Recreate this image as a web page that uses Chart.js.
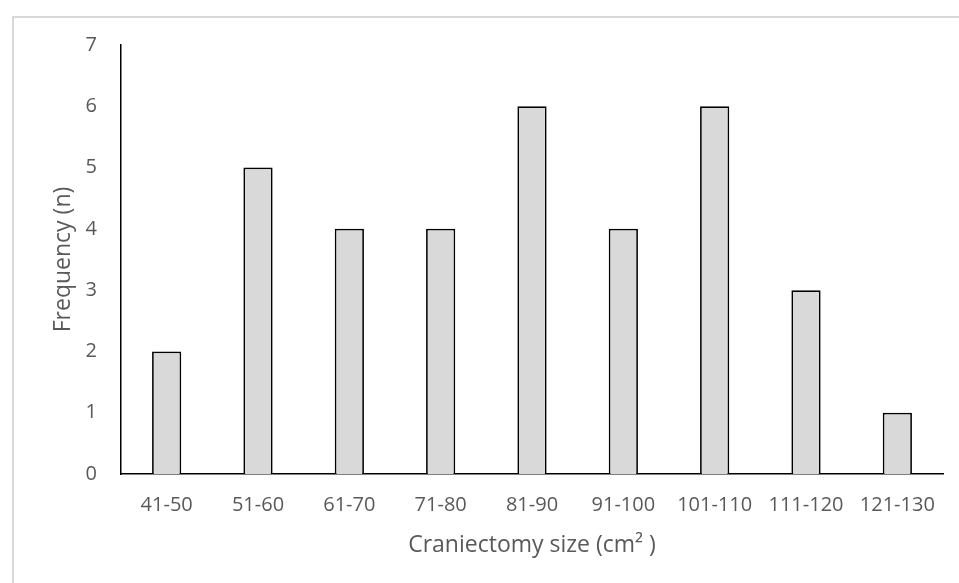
<!DOCTYPE html>
<html>
<head>
<meta charset="utf-8">
<script src="https://cdn.jsdelivr.net/npm/chart.js@4"></script>
<style>
  html, body { margin: 0; padding: 0; overflow: hidden; background: #fff; }
  #frame { position: absolute; left: 12px; top: 16px; width: 2000px; height: 2000px; border: 2px solid #d9d9d9; }
  #wrap { position: absolute; left: 0; top: 0; width: 959px; height: 583px; }
</style>
</head>
<body>
<div id="frame"></div>
<div id="wrap"><canvas id="barChart" width="959" height="583"></canvas></div>
<script>
// craniectomy size bins and how many patients fell in each
const sizeBins = ['41-50','51-60','61-70','71-80','81-90','91-100','101-110','111-120','121-130']
const frequency = [2,5,4,4,6,4,6,3,1]
const yMax = 7

const grey = '#595959'
const tickFont = {family: "'Open Sans', sans-serif", size: 20}
const titleFont = {family: "'Open Sans', sans-serif", size: 23}

const ctx = document.getElementById('barChart')

new Chart(
    ctx,{
        type:'bar',
        data: {
            labels: sizeBins,
            datasets:[
                {
                    label: 'Frequency',
                    data: frequency,
                    backgroundColor: '#d9d9d9',
                    borderColor: '#000000',
                    borderWidth: 1.75,
                    barPercentage: 0.32,
                    categoryPercentage: 1,
                }
            ]
        },
        options: {
            responsive: false,
            animation: false,
            layout: {padding: {left: 0, top: 45, right: 16, bottom: 0}},
            plugins: {legend: {display: false}, tooltip: {enabled: false}},
            scales: {
                x: {
                    grid: {display: false, drawTicks: false},
                    border: {display: true, color: '#000', width: 1.5},
                    ticks: {color: grey, font: tickFont, padding: 19, maxRotation: 0, autoSkip: false},
                    title: {display: true, text: 'Craniectomy size (cm² )', color: grey, font: titleFont, padding: {top: 0, bottom: 24}},
                    afterFit: s => { s.height = 109 }
                },
                y: {
                    min: 0,
                    max: yMax,
                    grid: {display: false, drawTicks: false},
                    border: {display: true, color: '#000', width: 1.5},
                    ticks: {stepSize: 1, color: grey, font: tickFont, padding: 24},
                    title: {display: true, text: 'Frequency (n)', color: grey, font: titleFont, padding: {top: 50, bottom: 0}},
                    afterFit: s => { s.width = 121 }
                }
            }
        }
    }
)
</script>
</body>
</html>
